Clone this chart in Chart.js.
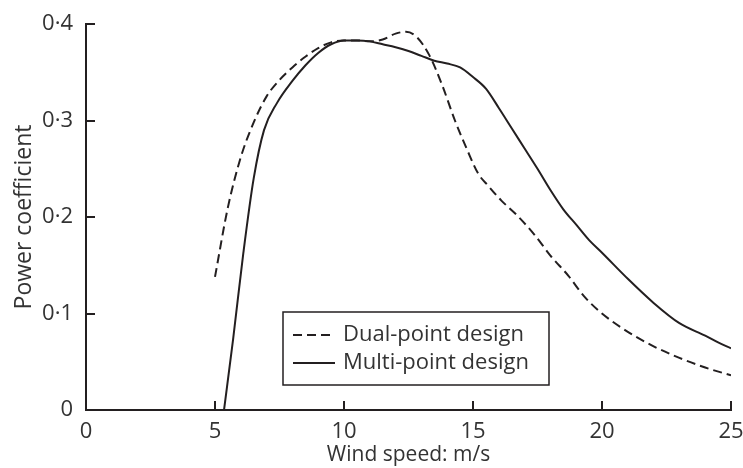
<!DOCTYPE html>
<html>
<head>
<meta charset="utf-8">
<script src="https://cdn.jsdelivr.net/npm/chart.js@4/dist/chart.umd.min.js"></script>
<style>
  html, body { margin: 0; padding: 0; background: #fff; }
  #wrap { width: 743px; height: 468px; }
</style>
</head>
<body>
<div id="wrap"><canvas id="cp"></canvas></div>
<script>
// wind speed (m/s) and power coefficient
var dualSpeed = [5.0, 5.5, 6.0, 6.5, 7.0, 7.5, 8.0, 8.5, 9.0, 9.5, 10.0, 10.5, 11.0, 11.5, 12.0, 12.4, 12.8, 13.3, 13.8, 14.3, 14.8, 15.2, 15.6, 16.1, 16.7, 17.4, 18.0, 18.7, 19.3, 20.0, 21.0, 22.0, 23.0, 24.0, 25.0];
var dualCp = [0.138, 0.21, 0.262, 0.298, 0.325, 0.342, 0.355, 0.366, 0.375, 0.381, 0.383, 0.383, 0.382, 0.384, 0.390, 0.392, 0.387, 0.368, 0.337, 0.300, 0.268, 0.245, 0.232, 0.217, 0.202, 0.181, 0.160, 0.139, 0.118, 0.100, 0.081, 0.066, 0.054, 0.044, 0.036];

var multiSpeed = [5.35, 5.7, 6.1, 6.5, 6.9, 7.4, 8.0, 8.5, 9.0, 9.5, 10.0, 10.5, 11.0, 11.5, 12.0, 12.5, 13.0, 13.5, 14.0, 14.5, 15.0, 15.5, 16.0, 16.5, 17.0, 17.5, 18.0, 18.5, 19.0, 19.5, 20.0, 21.0, 22.0, 23.0, 24.0, 24.5, 25.0];
var multiCp = [0, 0.073, 0.163, 0.240, 0.290, 0.318, 0.341, 0.357, 0.370, 0.379, 0.383, 0.383, 0.382, 0.379, 0.376, 0.372, 0.367, 0.362, 0.359, 0.355, 0.345, 0.333, 0.313, 0.292, 0.271, 0.250, 0.228, 0.208, 0.192, 0.176, 0.163, 0.136, 0.111, 0.090, 0.077, 0.070, 0.064];

var seriesNames = ['Dual-point design', 'Multi-point design'];
var xTicks = [0, 5, 10, 15, 20, 25];
var yTicks = [0, 0.1, 0.2, 0.3, 0.4];
var yTickLabels = ['0', '0·1', '0·2', '0·3', '0·4'];

var ink = '#231f20';
var txt = '#333333';
var fontFam = '"Open Sans", sans-serif';

function pts(xs, ys) {
    return xs.map(function (x, i) { return { x: x, y: ys[i] }; });
}

// inward tick marks
var innerTicks = {
    id: 'innerTicks',
    afterDraw: function (chart) {
        var c = chart.ctx, xs = chart.scales.x, ys = chart.scales.y;
        var a = chart.chartArea;
        c.save();
        c.strokeStyle = ink;
        c.lineWidth = 2;
        c.beginPath();
        xTicks.forEach(function (v) {
            var px = Math.round(xs.getPixelForValue(v));
            c.moveTo(px, a.bottom);
            c.lineTo(px, a.bottom - 9);
        });
        yTicks.forEach(function (v) {
            var py = Math.round(ys.getPixelForValue(v));
            c.moveTo(a.left, py);
            c.lineTo(a.left + 9, py);
        });
        c.stroke();
        c.restore();
    }
};

// boxed legend inside the plot
var boxLegend = {
    id: 'boxLegend',
    afterDraw: function (chart) {
        var c = chart.ctx, a = chart.chartArea;
        var left = a.left + 197, top = a.top + 288, w = 266, h = 73;
        c.save();
        c.fillStyle = '#fff';
        c.fillRect(left, top, w, h);
        c.strokeStyle = ink;
        c.lineWidth = 1.5;
        c.strokeRect(left, top, w, h);
        c.font = '22px ' + fontFam;
        c.textBaseline = 'middle';
        chart.data.datasets.forEach(function (ds, i) {
            var y = top + 23 + i * 28;
            c.strokeStyle = ink;
            c.lineWidth = 2;
            c.setLineDash(ds.borderDash || []);
            c.beginPath();
            c.moveTo(left + 10, y);
            c.lineTo(left + 52, y);
            c.stroke();
            c.setLineDash([]);
            c.fillStyle = txt;
            c.fillText(ds.label, left + 60, y);
        });
        c.restore();
    }
};

var chart = new Chart(document.getElementById('cp').getContext('2d'), {
    type: 'line',
    data: {
        datasets: [{
            label: seriesNames[0],
            data: pts(dualSpeed, dualCp),
            borderColor: ink,
            borderWidth: 2,
            borderDash: [9, 5],
            pointRadius: 0,
            cubicInterpolationMode: 'monotone',
            fill: false
        }, {
            label: seriesNames[1],
            data: pts(multiSpeed, multiCp),
            borderColor: ink,
            borderWidth: 2,
            pointRadius: 0,
            cubicInterpolationMode: 'monotone',
            fill: false
        }]
    },
    options: {
        responsive: true,
        maintainAspectRatio: false,
        animation: false,
        layout: { padding: { top: 24, right: 12, left: 0, bottom: 0 } },
        plugins: {
            legend: { display: false },
            tooltip: { enabled: false }
        },
        scales: {
            x: {
                type: 'linear',
                min: 0,
                max: 25,
                afterBuildTicks: function (s) { s.ticks = xTicks.map(function (v) { return { value: v }; }); },
                afterFit: function (s) { s.height = 58; s.paddingLeft = 0; s.paddingRight = 0; },
                grid: { display: true, drawOnChartArea: false, drawTicks: false },
                border: { display: true, color: ink, width: 2 },
                ticks: { color: txt, padding: 9, font: { family: fontFam, size: 22 }, maxRotation: 0 },
                title: { display: true, text: 'Wind speed: m/s', color: txt, padding: { top: -1, bottom: 0 }, font: { family: fontFam, size: 21 } }
            },
            y: {
                min: 0,
                max: 0.4,
                afterBuildTicks: function (s) { s.ticks = yTicks.map(function (v) { return { value: v }; }); },
                afterFit: function (s) { s.width = 86; s.paddingTop = 0; s.paddingBottom = 0; },
                grid: { display: true, drawOnChartArea: false, drawTicks: false },
                border: { display: true, color: ink, width: 2 },
                ticks: {
                    color: txt,
                    padding: 13,
                    font: { family: fontFam, size: 22 },
                    callback: function (v) { return yTickLabels[yTicks.indexOf(Math.round(v * 10) / 10)]; }
                },
                title: { display: true, text: 'Power coefficient', color: txt, padding: { top: 11, bottom: 4 }, font: { family: fontFam, size: 23 } }
            }
        }
    },
    plugins: [innerTicks, boxLegend]
});
</script>
</body>
</html>
